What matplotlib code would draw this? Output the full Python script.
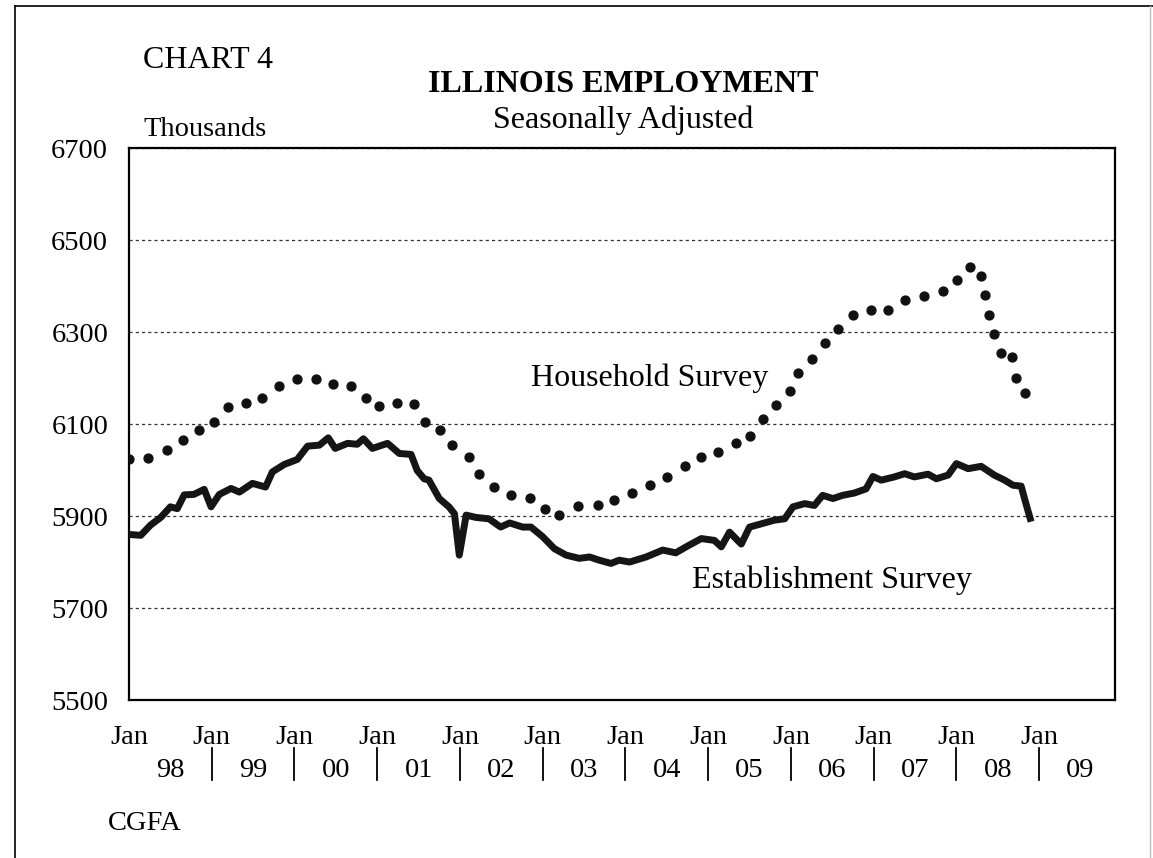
import matplotlib
matplotlib.use('Agg')
import matplotlib.pyplot as plt
from matplotlib.lines import Line2D

# months counted from Jan 1998
hh_month = [0, 2.8, 5.5, 7.8, 10.2, 12.3, 14.4, 17.0, 19.3, 21.7, 24.3, 27.1, 29.6, 32.2, 34.3,
            36.3, 38.9, 41.4, 43.0, 45.1, 46.9, 49.3, 50.8, 53.0, 55.4, 58.1, 60.3, 62.3, 65.1,
            68.0, 70.4, 73.0, 75.6, 78.1, 80.6, 83.0, 85.4, 88.1, 90.1, 91.9, 93.9, 95.8, 97.1,
            99.0, 101.0, 102.8, 105.0, 107.6, 110.1, 112.6, 115.3, 118.1, 120.1, 122.0, 123.5,
            124.1, 124.7, 125.5, 126.5, 128.0, 128.6, 129.9]
hh_value = [6023, 6026, 6043, 6065, 6086, 6104, 6136, 6146, 6156, 6182, 6197, 6198, 6186, 6182, 6157,
            6139, 6146, 6143, 6104, 6088, 6054, 6028, 5992, 5963, 5945, 5940, 5916, 5902, 5921,
            5925, 5934, 5951, 5968, 5985, 6009, 6028, 6040, 6058, 6073, 6110, 6141, 6172, 6211,
            6242, 6277, 6307, 6337, 6347, 6347, 6369, 6378, 6389, 6412, 6441, 6421,
            6380, 6338, 6296, 6255, 6245, 6201, 6167]

est_month = [0, 1.7, 3.1, 4.6, 6.0, 7.0, 8.0, 9.4, 10.9, 11.9, 13.1, 14.8, 16.0, 17.9, 19.8, 20.8,
             22.5, 24.4, 25.9, 27.6, 28.9, 29.9, 31.7, 33.1, 34.0, 35.3, 37.5, 39.2, 40.9, 41.8,
             42.8, 43.5, 45.0, 46.4, 47.2, 47.9, 48.9, 50.3, 52.2, 53.9, 55.2, 57.1, 58.3, 60.0,
             61.7, 63.4, 65.3, 66.8, 68.2, 69.9, 71.1, 72.6, 75.0, 77.4, 79.3, 80.8, 83.0, 84.9,
             85.9, 87.1, 88.8, 90.0, 91.7, 93.6, 95.1, 96.3, 98.0, 99.4, 100.6, 102.1, 103.5,
             105.2, 106.9, 107.9, 109.1, 111.0, 112.5, 113.9, 115.9, 117.1, 118.8, 120.0, 121.7,
             123.6, 125.5, 127.0, 128.2, 129.4, 129.9, 130.7]
est_value = [5860, 5858, 5880, 5897, 5920, 5916, 5946, 5947, 5958, 5920, 5947, 5960, 5952, 5971, 5963, 5996,
             6012, 6023, 6052, 6054, 6070, 6047, 6058, 6056, 6068, 6047, 6058, 6036, 6034, 5999,
             5981, 5978, 5938, 5920, 5905, 5815, 5902, 5897, 5894, 5876, 5885, 5876, 5876, 5855,
             5829, 5815, 5808, 5811, 5804, 5797, 5804, 5800, 5811, 5826, 5820, 5833, 5851, 5847,
             5833, 5865, 5839, 5876, 5883, 5891, 5894, 5920, 5927, 5923, 5945, 5938, 5945,
             5950, 5959, 5986, 5978, 5985, 5992, 5985, 5991, 5981, 5989, 6014, 6003,
             6008, 5989, 5978, 5967, 5965, 5937, 5895]

year_labels = ['98', '99', '00', '01', '02', '03', '04', '05', '06', '07', '08', '09']
y_ticks = [5500, 5700, 5900, 6100, 6300, 6500, 6700]

plt.rcParams['font.family'] = ['Liberation Serif', 'DejaVu Serif']

fig = plt.figure(figsize=(11.53, 8.58), dpi=100)
ax = fig.add_axes([0.1119, 0.1841, 0.8551, 0.6434])

# establishment survey: thick solid line
ax.plot(est_month, est_value, color='#151515', lw=5.0, solid_joinstyle='round', zorder=3)
# household survey: round dots
ax.plot(hh_month, hh_value, linestyle='none', marker='o', ms=6.4, color='#111111', zorder=3)

ax.set_xlim(0, 143)
ax.set_ylim(5500, 6700)
ax.set_yticks(y_ticks)
ax.yaxis.grid(True, linestyle=(0, (2.5, 2.5)), color='#333333', lw=0.9)
ax.tick_params(axis='y', length=0, pad=15, labelsize=20.5)
for s in ax.spines.values():
    s.set_linewidth(1.6)
    s.set_color('black')

# x axis: Jan labels at year starts, year numbers mid-year
jan_pos = [12 * i for i in range(len(year_labels))]
mid_pos = [12 * i + 6 for i in range(len(year_labels))]
ax.set_xticks(jan_pos)
ax.set_xticklabels(['Jan'] * len(jan_pos))
ax.set_xticks(mid_pos, minor=True)
ax.set_xticklabels(year_labels, minor=True)
ax.tick_params(axis='x', which='major', length=0, pad=18, labelsize=20.5)
ax.tick_params(axis='x', which='minor', length=0, pad=42, labelsize=20.5)
trans = ax.get_xaxis_transform()
for p in jan_pos[1:]:
    ax.plot([p, p], [-0.087, -0.145], transform=trans, color='black', lw=1.3, clip_on=False)

ax.text(58.3, 6199, 'Household Survey', fontsize=23, va='center', ha='left')
ax.text(81.6, 5761, 'Establishment Survey', fontsize=23, va='center', ha='left')

fig.text(143 / 1153, 1 - 60 / 858, 'CHART 4', fontsize=23, va='center', ha='left')
fig.text(623 / 1153, 1 - 85 / 858, 'ILLINOIS EMPLOYMENT', fontsize=23, fontweight='bold',
         va='center', ha='center')
fig.text(623 / 1153, 1 - 120 / 858, 'Seasonally Adjusted', fontsize=23, va='center', ha='center')
fig.text(143 / 1153, 1 - 130 / 858, 'Thousands', fontsize=20.5, va='center', ha='left')
fig.text(108 / 1153, 1 - 823 / 858, 'CGFA', fontsize=20.5, va='center', ha='left')

# page frame
fig.add_artist(Line2D([15 / 1153, 15 / 1153], [0, 1 - 6 / 858], color='black', lw=1.2))
fig.add_artist(Line2D([15 / 1153, 1], [1 - 6 / 858, 1 - 6 / 858], color='black', lw=1.2))
fig.add_artist(Line2D([1150 / 1153, 1150 / 1153], [0, 1 - 6 / 858], color='#bbbbbb', lw=1.0))

fig.savefig('out.png', dpi=100)
